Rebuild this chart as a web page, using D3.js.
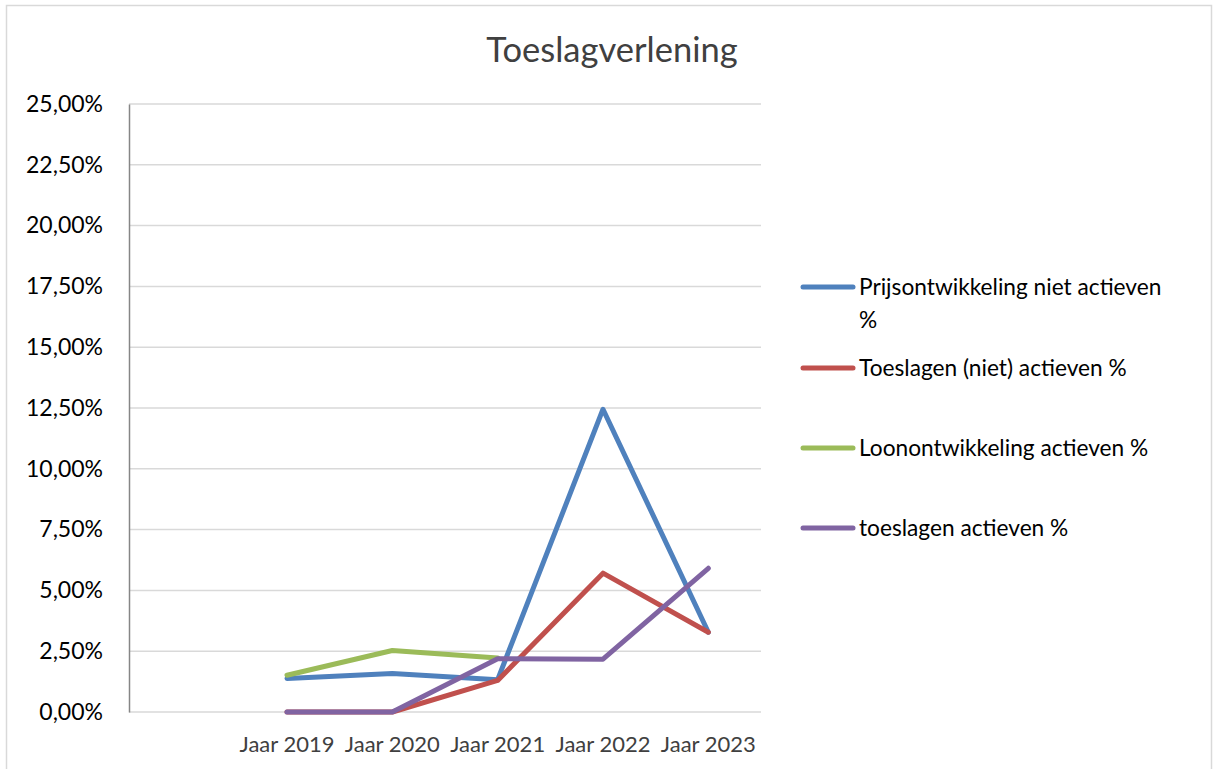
<!DOCTYPE html>
<html>
<head>
<meta charset="utf-8">
<script src="https://cdn.jsdelivr.net/npm/d3@7"></script>
<style>
  body { margin: 0; background: #fff; }
  svg { font-family: Lato, "Open Sans", sans-serif; }
</style>
</head>
<body>
<div id="chart"></div>
<script>
// categories (first slot is empty in the original sheet)
const categories = ["", "Jaar 2019", "Jaar 2020", "Jaar 2021", "Jaar 2022", "Jaar 2023"];
const seriesNames = [
    "Prijsontwikkeling niet actieven %",
    "Toeslagen (niet) actieven %",
    "Loonontwikkeling actieven %",
    "toeslagen actieven %"
];
const prijsNietActieven = [null, 1.38, 1.58, 1.33, 12.45, 3.28];
const toeslagenNietActieven = [null, 0, 0, 1.30, 5.71, 3.28];
const loonActieven = [null, 1.51, 2.53, 2.22, null, null];
const toeslagenActieven = [null, 0, 0, 2.19, 2.17, 5.91];
const yTicks = [0, 2.5, 5, 7.5, 10, 12.5, 15, 17.5, 20, 22.5, 25];
const colors = ["#4F81BD", "#C0504D", "#9BBB59", "#8064A2"];

const allSeries = [prijsNietActieven, toeslagenNietActieven, loonActieven, toeslagenActieven];

const width = 1213,
    height = 769;
const margin = { top: 104, left: 129, right: 452, bottom: 57 };

const svg = d3.select("#chart")
    .append("svg")
    .attr("width", width)
    .attr("height", height);

// outer chart border
svg.append("rect")
    .attr("x", 6.5)
    .attr("y", 5.5)
    .attr("width", width - 8)
    .attr("height", height - 4)
    .attr("fill", "none")
    .attr("stroke", "#d9d9d9")
    .attr("stroke-width", 1.5);

svg.append("text")
    .attr("x", 612)
    .attr("y", 62)
    .attr("text-anchor", "middle")
    .attr("fill", "#404040")
    .style("font-size", "34.5px")
    .text("Toeslagverlening");

const x = d3.scaleBand()
    .domain(categories.map((d, i) => i))
    .range([margin.left, width - margin.right]);

const y = d3.scaleLinear()
    .domain([0, 25])
    .range([height - margin.bottom, margin.top]);

// gridlines
svg.append("g")
    .selectAll("line")
    .data(yTicks)
    .enter()
    .append("line")
    .attr("x1", margin.left)
    .attr("x2", width - margin.right)
    .attr("y1", d => y(d))
    .attr("y2", d => y(d))
    .attr("stroke", "#d9d9d9")
    .attr("stroke-width", 1.5);

// y axis
const yAxis = svg.append("g")
    .attr("transform", `translate(${margin.left},0)`)
    .call(d3.axisLeft(y)
        .tickValues(yTicks)
        .tickSize(0)
        .tickPadding(26)
        .tickFormat(d => d.toFixed(2).replace(".", ",") + "%"));
yAxis.select(".domain").attr("stroke", "#868686").attr("stroke-width", 1.5);
yAxis.selectAll("text")
    .attr("fill", "#000")
    .style("font-size", "23px")
    .style("font-family", "Lato, 'Open Sans', sans-serif");

// x axis
const xAxis = svg.append("g")
    .attr("transform", `translate(0,${height - margin.bottom})`)
    .call(d3.axisBottom(x)
        .tickSize(0)
        .tickPadding(24)
        .tickFormat(i => categories[i]));
xAxis.select(".domain").remove();
xAxis.selectAll("text")
    .attr("fill", "#404040")
    .style("font-size", "22px")
    .style("font-family", "Lato, 'Open Sans', sans-serif");

const line = d3.line()
    .defined(d => d.v !== null)
    .x(d => x(d.i) + x.bandwidth() / 2)
    .y(d => y(d.v));

svg.append("g")
    .selectAll("path")
    .data(allSeries)
    .enter()
    .append("path")
    .attr("d", s => line(s.map((v, i) => ({ i: i, v: v }))))
    .attr("fill", "none")
    .attr("stroke", (d, i) => colors[i])
    .attr("stroke-width", 5)
    .attr("stroke-linejoin", "round")
    .attr("stroke-linecap", "round");

// legend
const legendY = [287, 368, 448, 528];
const legend = svg.selectAll(".legend")
    .data(seriesNames)
    .enter()
    .append("g")
    .attr("class", "legend")
    .attr("transform", (d, i) => `translate(803, ${legendY[i]})`);

legend.append("line")
    .attr("x1", 0)
    .attr("x2", 50)
    .attr("stroke", (d, i) => colors[i])
    .attr("stroke-width", 5)
    .attr("stroke-linecap", "round");

legend.append("text")
    .attr("x", 56)
    .attr("y", 8)
    .attr("fill", "#000")
    .style("font-size", "22.7px")
    .each(function (d) {
        const t = d3.select(this);
        if (d.startsWith("Prijs")) {
            t.append("tspan").attr("x", 56).text("Prijsontwikkeling niet actieven");
            t.append("tspan").attr("x", 56).attr("dy", 33).text("%");
        } else {
            t.text(d);
        }
    });
</script>
</body>
</html>
